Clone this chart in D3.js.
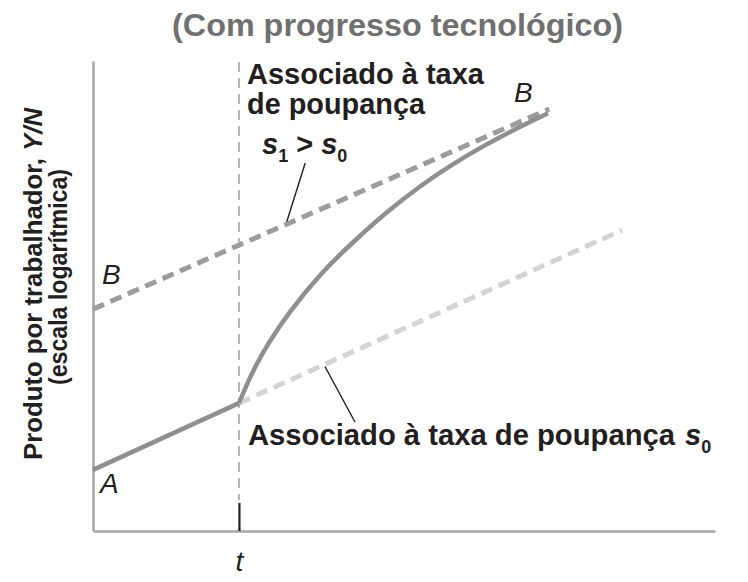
<!DOCTYPE html>
<html><head><meta charset="utf-8">
<script src="https://cdn.jsdelivr.net/npm/d3@7"></script>
<style>body{margin:0;background:#fff} svg{display:block}</style>
</head><body>
<svg id="c" width="748" height="582"></svg>
<script>
// ---- data (abstract units: time t, log output v) ----
const titleText = "(Com progresso tecnológico)";
const yLabelLine1 = "Produto por trabalhador, ";
const yLabelVar = "Y/N";
const yLabelLine2 = "(escala logarítmica)";
const xTickLabels = ["t"];
const shockTime = [22.9];
const pathA = [{t:0, v:13.0}, {t:22.9, v:27.2}];
const pathS0 = [{t:22.9, v:27.2}, {t:83.0, v:64.0}];
const pathS1 = [{t:0, v:47.2}, {t:71.6, v:89.8}];
const transitionPath = [
  {t:22.9, v:27.2}, {t:25.1, v:34.3}, {t:27.8, v:40.6}, {t:30.4, v:45.9},
  {t:35.6, v:54.7}, {t:40.8, v:61.5}, {t:46.1, v:67.9}, {t:51.3, v:73.4},
  {t:56.0, v:77.7}, {t:61.2, v:81.9}, {t:66.5, v:85.7}, {t:71.4, v:88.9}
];
const leaderS1 = [{t:33.3, v:78.3}, {t:30.4, v:65.8}];
const leaderS0 = [{t:36.4, v:35.0}, {t:41.1, v:23.2}];

// ---- drawing ----
const svg = d3.select("#c");
const x = d3.scaleLinear().domain([0, 97.6]).range([93, 715]);
const y = d3.scaleLinear().domain([0, 100]).range([531, 61]);
const line = d3.line().x(d => x(d.t)).y(d => y(d.v));
const smooth = d3.line().x(d => x(d.t)).y(d => y(d.v)).curve(d3.curveBasis);
const FONT = "'Liberation Sans', Arial, Helvetica, sans-serif";
const INK = "#231f20";

// title
svg.append("text").attr("x", 172).attr("y", 36)
  .attr("font-family", FONT).attr("font-weight", "bold").attr("font-size", 32)
  .attr("fill", "#707070").attr("textLength", 451).attr("lengthAdjust", "spacingAndGlyphs")
  .text(titleText);

// y label
const yl = svg.append("text").attr("transform", "translate(42,284) rotate(-90)")
  .attr("text-anchor", "middle").attr("font-family", FONT).attr("font-weight", "bold")
  .attr("font-size", 26).attr("fill", INK)
  .attr("textLength", 352).attr("lengthAdjust", "spacingAndGlyphs");
yl.append("tspan").text(yLabelLine1);
yl.append("tspan").attr("font-style", "italic").text(yLabelVar);
svg.append("text").attr("transform", "translate(67,277) rotate(-90)")
  .attr("text-anchor", "middle").attr("font-family", FONT).attr("font-weight", "bold")
  .attr("font-size", 26).attr("fill", INK)
  .attr("textLength", 216).attr("lengthAdjust", "spacingAndGlyphs")
  .text(yLabelLine2);

// vertical dashed line at t
svg.append("line")
  .attr("x1", x(shockTime[0])).attr("x2", x(shockTime[0]))
  .attr("y1", y(99.8)).attr("y2", y(6.6))
  .attr("stroke", "#a3a3a3").attr("stroke-width", 1.6).attr("stroke-dasharray", "10,6");

// axes
const yAxis = svg.append("g").attr("transform", `translate(${x(0)},0)`)
  .call(d3.axisLeft(y).tickValues([]).tickSizeOuter(0));
yAxis.select(".domain").attr("stroke", "#a6a6a6").attr("stroke-width", 2.5);

const xAxis = svg.append("g").attr("transform", `translate(0,${y(0)})`)
  .call(d3.axisBottom(x).tickValues(shockTime).tickSizeInner(-28).tickSizeOuter(0)
    .tickPadding(0).tickFormat((d, i) => xTickLabels[i]));
xAxis.select(".domain").attr("stroke", "#a6a6a6").attr("stroke-width", 2.5);
xAxis.selectAll(".tick line").attr("stroke", INK).attr("stroke-width", 2.2);
xAxis.selectAll(".tick text").attr("y", 40).attr("dy", 0)
  .attr("font-family", FONT).attr("font-style", "italic").attr("font-size", 28)
  .attr("fill", INK);

// paths
svg.append("path").datum(pathS0).attr("d", line).attr("fill", "none")
  .attr("stroke", "#d3d3d3").attr("stroke-width", 5).attr("stroke-dasharray", "12,7");
svg.append("path").datum(pathS1).attr("d", line).attr("fill", "none")
  .attr("stroke", "#9c9c9c").attr("stroke-width", 5).attr("stroke-dasharray", "12,7");
svg.append("path").datum(pathA).attr("d", line).attr("fill", "none")
  .attr("stroke", "#8f8f8f").attr("stroke-width", 4.5);
svg.append("path").datum(transitionPath).attr("d", smooth)
  .attr("fill", "none").attr("stroke", "#8f8f8f").attr("stroke-width", 4.5);

// leaders
[leaderS1, leaderS0].forEach(l => svg.append("path").datum(l).attr("d", line)
  .attr("fill", "none").attr("stroke", INK).attr("stroke-width", 1.4));

// annotations
const ann = (xx, yy) => svg.append("text").attr("x", xx).attr("y", yy)
  .attr("font-family", FONT).attr("font-weight", "bold").attr("font-size", 29).attr("fill", INK);
ann(247, 84).attr("textLength", 237).attr("lengthAdjust", "spacingAndGlyphs").text("Associado à taxa");
ann(247, 114).attr("textLength", 178).attr("lengthAdjust", "spacingAndGlyphs").text("de poupança");

const s10 = ann(262, 154);
s10.append("tspan").attr("font-style", "italic").text("s");
s10.append("tspan").attr("font-size", 18).attr("dy", 8).text("1");
s10.append("tspan").attr("dy", -8).text(" > ");
s10.append("tspan").attr("font-style", "italic").text("s");
s10.append("tspan").attr("font-size", 18).attr("dy", 8).text("0");

const s0t = ann(248, 445);
s0t.append("tspan").attr("textLength", 427).attr("lengthAdjust", "spacingAndGlyphs").text("Associado à taxa de poupança");
s0t.append("tspan").attr("x", 685).attr("font-style", "italic").text("s");
s0t.append("tspan").attr("font-size", 18).attr("dy", 8).text("0");

// point labels
const lbl = (xx, yy, t) => svg.append("text").attr("x", xx).attr("y", yy)
  .attr("font-family", FONT).attr("font-style", "italic").attr("font-size", 28)
  .attr("fill", INK).text(t);
lbl(100, 493, "A");
lbl(102, 284, "B");
lbl(514, 102, "B");
</script>
</body></html>
